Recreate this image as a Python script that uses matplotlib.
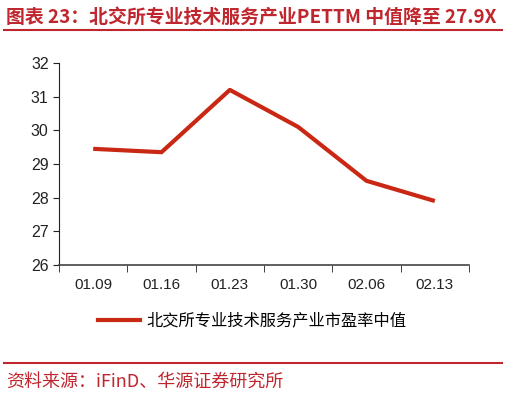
import matplotlib
matplotlib.use("Agg")
import matplotlib.pyplot as plt
from matplotlib.lines import Line2D

plt.rcParams['font.family'] = ['Liberation Sans', 'Noto Sans CJK SC', 'DejaVu Sans']

dates = ["01.09", "01.16", "01.23", "01.30", "02.06", "02.13"]
pe_median = [29.45, 29.35, 31.2, 30.1, 28.5, 27.9]

RED = "#C82814"
TITLE_RED = "#C0262D"
cjk = ['Noto Sans CJK SC', 'DejaVu Sans']

fig = plt.figure(figsize=(5.07, 3.96), dpi=100, facecolor="white")
ax = fig.add_axes([0.1164, 0.3308, 0.8086, 0.5102])

x = list(range(len(dates)))
ax.plot(x, pe_median, color=RED, lw=3.0, solid_capstyle="butt")

ax.set_xlim(-0.5, len(dates) - 0.5)
ax.set_ylim(26, 32)
ax.set_yticks(range(26, 33))
ax.set_xticks(x)
ax.set_xticklabels(dates)
ax.set_xticks([i - 0.5 for i in range(len(dates) + 1)], minor=True)
ax.tick_params(axis="x", which="major", length=0, pad=9, labelsize=11, colors="#222222")
ax.tick_params(axis="x", which="minor", length=5, direction="out", color="#222222")
ax.tick_params(axis="y", length=4, direction="out", labelsize=11.5, color="#222222", labelcolor="#222222")
for s in ["top", "right"]:
    ax.spines[s].set_visible(False)
ax.spines["left"].set_color("#222222")
ax.spines["bottom"].set_color("#444444")
ax.spines["bottom"].set_linewidth(1.2)

# legend
handle = Line2D([], [], color=RED, lw=3.0)
leg = fig.legend([handle], ["北交所专业技术服务产业市盈率中值"], loc="center",
                 bbox_to_anchor=(0.497, 0.19), frameon=False, handlelength=2.6,
                 handletextpad=0.35, prop={"family": cjk, "size": 11.7})

# title
fig.text(0.012, 0.957, "图表 23：北交所专业技术服务产业PETTM 中值降至 27.9X",
         color=TITLE_RED, fontsize=13.6, fontweight="bold", family=cjk, va="center")
fig.add_artist(Line2D([0.008, 0.99], [0.924, 0.924], color=TITLE_RED, lw=1.5))

# footer
fig.add_artist(Line2D([0.008, 0.99], [0.083, 0.083], color=TITLE_RED, lw=1.5))
fig.text(0.012, 0.035, "资料来源：iFinD、华源证券研究所", color=TITLE_RED,
         fontsize=13, family=cjk, va="center")

fig.savefig("out.png", dpi=100, facecolor="white")
